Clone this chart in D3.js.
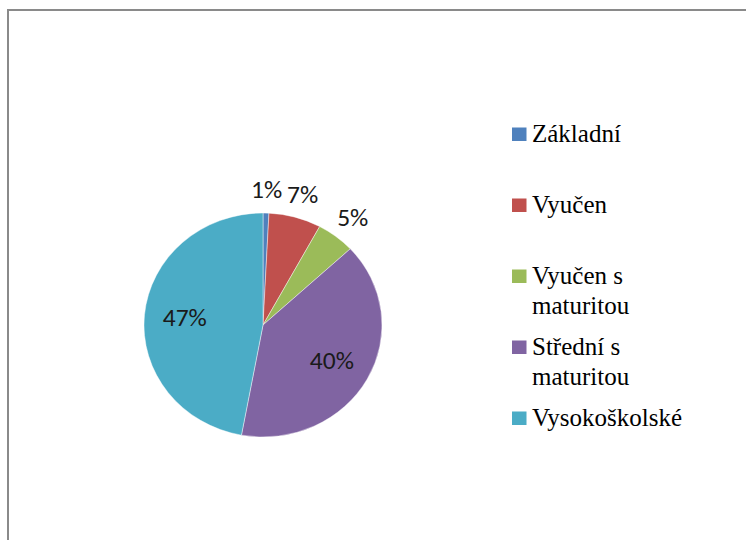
<!DOCTYPE html>
<html>
<head>
<meta charset="utf-8">
<script src="https://cdn.jsdelivr.net/npm/d3@7"></script>
<style>
  body { margin: 0; background: #fff; }
</style>
</head>
<body>
<div id="chart"></div>
<script>
var width = 746
var height = 540

// data (percent of respondents)
var categories = ["Základní", "Vyučen", "Vyučen s maturitou", "Střední s maturitou", "Vysokoškolské"]
var values = [0.8, 7.1, 5.2, 39.8, 47.1]
var colors = ["#4F81BD", "#C0504D", "#9BBB59", "#8064A2", "#4BACC6"]

var cx = 263, cy = 325
var radius = 112
var stretch = 1.0625   // the pie is a little wider than tall

var svg = d3.select("#chart").append("svg")
    .attr("width", width)
    .attr("height", height)

// chart frame (only top and left edges fall inside the picture)
svg.append("rect")
    .attr("x", 8).attr("y", 10)
    .attr("width", 900).attr("height", 700)
    .attr("fill", "none")
    .attr("stroke", "#8a8a8a")
    .attr("stroke-width", 2)

var total = d3.sum(values)
var data = categories.map(function(c, i) { return {name: c, value: values[i], color: colors[i]} })

var pie = d3.pie().sort(null).value(function(d) { return d.value })
var arcs = pie(data)

var arc = d3.arc().innerRadius(0).outerRadius(radius)
var inLabel = d3.arc().innerRadius(radius * 0.66).outerRadius(radius * 0.66)

var g = svg.append("g")
    .attr("transform", "translate(" + cx + "," + cy + ") scale(" + stretch + ",1)")

g.selectAll("path.slice")
    .data(arcs)
    .enter()
    .append("path")
    .attr("class", "slice")
    .attr("d", arc)
    .attr("fill", function(d) { return d.data.color })
    .attr("stroke", "#ffffff")
    .attr("stroke-width", 0.6)
    .attr("stroke-opacity", 0.7)

var labels = g.selectAll("text.pct")
    .data(arcs)
    .enter()
    .append("text")
    .attr("class", "pct")
    .attr("text-anchor", "middle")
    .attr("dy", "0.33em")
    .attr("font-family", "Carlito")
    .attr("font-size", 24)
    .attr("fill", "#1a1a1a")
    .text(function(d) { return Math.round(d.data.value / total * 100) + "%" })

// small slices get their label outside, pushed out by half its box
labels.attr("transform", function(d) {
    var p
    if (d.data.value / total < 0.1) {
        var a = (d.startAngle + d.endAngle) / 2
        var dx = Math.sin(a), dy = -Math.cos(a)
        var bb = this.getBBox()
        var R = radius * 1.1
        p = [dx * R + dx * bb.width / 2, dy * R + dy * bb.height * 0.4]
    } else {
        p = inLabel.centroid(d)
    }
    return "translate(" + p[0] + "," + p[1] + ")"
})

// legend
var rowY = d3.scaleLinear().domain([0, 1]).range([142, 213])
var lineGap = 30

// greedy word wrap, measured on a throwaway text
function wrap(name) {
    var probe = svg.append("text").attr("font-family", "Liberation Serif").attr("font-size", 25)
    var lines = [], line = []
    name.split(" ").forEach(function(w) {
        line.push(w)
        probe.text(line.join(" "))
        if (probe.node().getComputedTextLength() > 150 && line.length > 1) {
            line.pop()
            lines.push(line.join(" "))
            line = [w]
        }
    })
    lines.push(line.join(" "))
    probe.remove()
    return lines
}

var legend = svg.append("g").attr("class", "legend")

data.forEach(function(d, i) {
    var y0 = rowY(i)
    legend.append("rect")
        .attr("x", 512)
        .attr("y", y0 - 14.5)
        .attr("width", 14.5)
        .attr("height", 13.5)
        .attr("fill", d.color)

    wrap(d.name).forEach(function(s, k) {
        legend.append("text")
            .attr("x", 532)
            .attr("y", y0 + k * lineGap)
            .attr("font-family", "Liberation Serif")
            .attr("font-size", 25)
            .attr("fill", "#000")
            .text(s)
    })
})
</script>
</body>
</html>
